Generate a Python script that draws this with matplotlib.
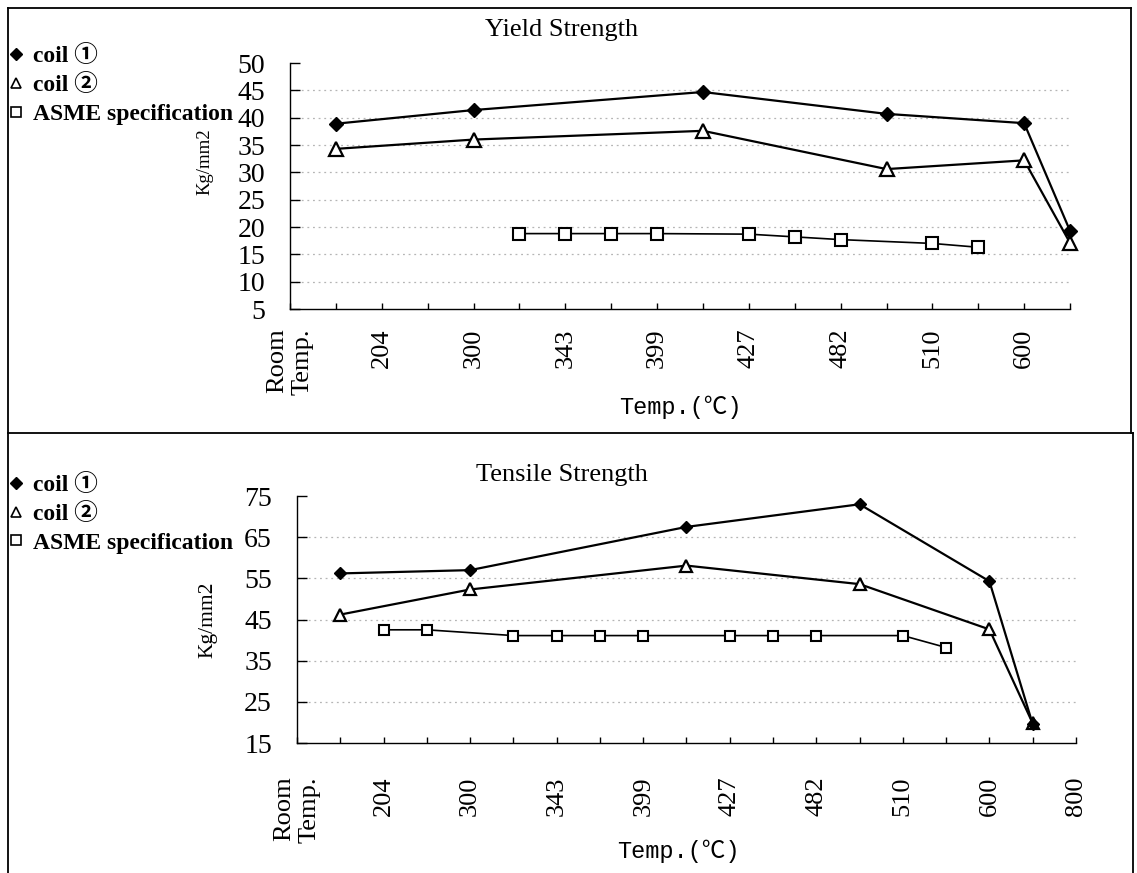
import matplotlib
matplotlib.use("Agg")
import matplotlib.pyplot as plt
from matplotlib.lines import Line2D

# x positions are category slots on the Excel-style axis (labels on every 2nd slot)
temp_labels = ['Room\nTemp.', '204', '300', '343', '399', '427', '482', '510', '600', '800']

coil_x = [1, 4, 9, 13, 16, 17]

# Yield strength (Kg/mm2)
ys_coil1 = [38.9, 41.4, 44.7, 40.7, 39.0, 19.3]
ys_coil2 = [34.3, 36.0, 37.6, 30.6, 32.2, 17.1]
ys_asme_x = [5, 6, 7, 8, 10, 11, 12, 14, 15]
ys_asme = [18.8, 18.8, 18.8, 18.8, 18.7, 18.2, 17.7, 17.0, 16.3]

# Tensile strength (Kg/mm2)
ts_coil1 = [56.2, 57.0, 67.5, 73.0, 54.3, 19.6]
ts_coil2 = [46.2, 52.3, 58.1, 53.6, 42.6, 19.8]
ts_asme_x = [2, 3, 5, 6, 7, 8, 10, 11, 12, 14, 15]
ts_asme = [42.5, 42.5, 41.1, 41.1, 41.1, 41.1, 41.1, 41.1, 41.1, 41.1, 38.2]

serif = ['Liberation Serif', 'Noto Sans CJK JP', 'DejaVu Sans']
mono = ['Liberation Mono', 'Noto Sans CJK JP', 'DejaVu Sans']

fig = plt.figure(figsize=(11.37, 8.73), dpi=100)


def panel(rect, xmax, ylim, ystep, c1, c2, ax_x, asme, nlab, title, title_y, leg_y, big):
    ax = fig.add_axes(rect)
    ms = 1.0 if big else 0.85
    ax.plot(coil_x, c1, color='black', lw=1.6, marker='D', ms=7.5 * ms,
            mfc='black', mec='black', zorder=4, clip_on=False)
    ax.plot(coil_x, c2, color='black', lw=1.6, marker='^', ms=10 * ms,
            mfc='white', mec='black', mew=1.6, zorder=3, clip_on=False)
    ax.plot(ax_x, asme, color='black', lw=1.2, marker='s', ms=9 * ms,
            mfc='white', mec='black', mew=1.5, zorder=3)

    ax.set_xlim(0, xmax)
    ax.set_ylim(*ylim)
    yt = list(range(ylim[0], ylim[1] + 1, ystep))
    ax.set_yticks(yt)
    ax.set_yticklabels([str(v) for v in yt], family=serif, fontsize=20)
    ticks = list(range(0, xmax + 1))
    labs = ['' for _ in ticks]
    for i in range(nlab):
        labs[2 * i] = temp_labels[i]
    ax.set_xticks(ticks)
    ax.set_xticklabels(labs, rotation=90, family=serif, fontsize=19, va='top')
    for t in ax.get_xticklabels():
        t.set_multialignment('right')

    ax.tick_params(axis='y', direction='in', length=7, width=1, pad=18)
    ax.tick_params(axis='x', direction='in', length=4, width=1, pad=14 if big else 24)
    for s in ['top', 'right']:
        ax.spines[s].set_visible(False)
    for s in ['left', 'bottom']:
        ax.spines[s].set_linewidth(1)
    ax.yaxis.grid(True, color='#b5b5b5', lw=0.9, ls=(0, (1.5, 3)))
    gl = ax.get_ygridlines()
    gl[0].set_visible(False)
    gl[-1].set_visible(False)
    ax.set_axisbelow(True)

    ax.set_ylabel('Kg/mm2', family=serif, fontsize=13.5 if big else 15.5)
    ax.set_xlabel('Temp.(℃)', family=mono, fontsize=17)

    fig.text(0.494, title_y, title, family=serif, fontsize=19, ha='center', va='center')

    handles = [
        Line2D([], [], ls='none', marker='D', ms=6, mfc='black', mec='black'),
        Line2D([], [], ls='none', marker='^', ms=7, mfc='white', mec='black', mew=1.2),
        Line2D([], [], ls='none', marker='s', ms=7, mfc='white', mec='black', mew=1.2),
    ]
    fig.legend(handles, ['coil ①', 'coil ②', 'ASME specification'],
               loc='upper left', bbox_to_anchor=(0.008, leg_y),
               frameon=False, borderpad=0, borderaxespad=0,
               handlelength=0.6, handletextpad=0.4, labelspacing=0.3,
               prop={'family': serif, 'size': 17, 'weight': 'bold'})
    return ax


ax1 = panel([0.2551, 0.6460, 0.686, 0.2818], 17, (5, 50), 5,
            ys_coil1, ys_coil2, ys_asme_x, ys_asme, 9,
            'Yield Strength', 0.966, 0.948, True)
ax1.yaxis.set_label_coords(-0.109, 0.60)
ax1.xaxis.set_label_coords(0.5, -0.40)

ax2 = panel([0.2612, 0.1489, 0.6851, 0.2829], 18, (15, 75), 10,
            ts_coil1, ts_coil2, ts_asme_x, ts_asme, 10,
            'Tensile Strength', 0.456, 0.457, False)
ax2.yaxis.set_label_coords(-0.114, 0.50)
ax2.xaxis.set_label_coords(0.49, -0.44)
for a in (ax1, ax2):
    a.yaxis.label.set_verticalalignment('center')
    a.xaxis.label.set_verticalalignment('center')

# outer frame of the original figure
W, H = 1137.0, 873.0
for xs, ys in [((8, 1131), (865, 865)), ((8, 8), (0, 865)), ((1131, 1131), (440, 865)),
               ((8, 1133), (440, 440)), ((1133, 1133), (0, 440))]:
    fig.add_artist(Line2D([x / W for x in xs], [y / H for y in ys],
                          color='black', lw=1.3, transform=fig.transFigure))

fig.savefig('out.png', dpi=100)
